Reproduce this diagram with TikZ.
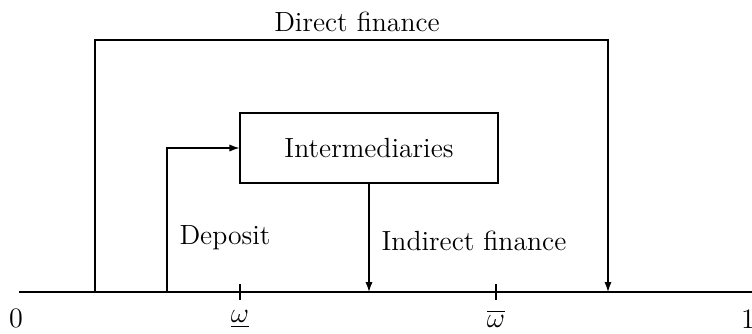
\documentclass[tikz,border=0pt]{standalone}
\usepackage{amsmath}
\usetikzlibrary{arrows.meta, positioning}

\begin{document}
\begin{tikzpicture}[x=0.018cm, y=-0.018cm,
  font=\fontsize{14.2}{17}\selectfont,
  box/.style={draw, line width=0.7pt, minimum width=4.64cm, minimum height=1.26cm},
  flow/.style={line width=0.7pt, -{Latex[length=1.8mm, width=1.3mm]}},
  axis/.style={line width=1.4pt},
  lbl/.style={inner sep=1pt}
  ]
  \useasboundingbox (0,0) rectangle (752,333);

  % the unit interval
  \coordinate (a0) at (19,292);
  \coordinate (a1) at (752,292);
  \draw[axis] (a0) -- (a1);
  \foreach \x/\n in {240/lo, 496/hi}
    \draw[line width=1pt] (\x,284) coordinate (t\n) -- (\x,300);
  \node[lbl] (zero) at (16,318) {$0$};
  \node[lbl] (one) at (748,319) {$1$};
  \node[lbl] (wlo) at (240,319) {$\underline{\omega}$};
  \node[lbl] (whi) at (496,319) {$\overline{\omega}$};

  \node[box] (inter) at (369,148) {Intermediaries};

  % direct finance
  \coordinate (d0) at (95,292);
  \coordinate (d1) at (608,292);
  \coordinate (dtop) at (357,40);
  \draw[flow] (d0) |- (dtop) -| (d1);
  \node[lbl, above=3pt of dtop] (direct) {Direct finance};

  % deposits and indirect finance
  \coordinate (p0) at (167,292);
  \draw[flow] (p0) |- (inter.west);
  \draw[flow] (inter.south) -- (inter.south |- a0);
  \node[lbl] (deposit) at (225,238) {Deposit};
  \node[lbl] (indirect) at (474,241) {Indirect finance};
\end{tikzpicture}
\end{document}
